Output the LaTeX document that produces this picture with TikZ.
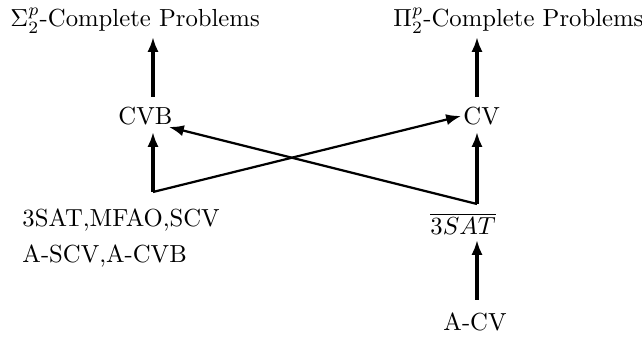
\documentclass[tikz,border=0pt]{standalone}
\usetikzlibrary{arrows.meta}
\begin{document}
\begin{tikzpicture}[x=0.405pt,y=-0.405pt,
  lbl/.style={anchor=base west,inner sep=0pt},
  vup/.style={line width=1.3pt,-{Latex[length=6pt,width=4.5pt]}},
  cross/.style={line width=0.9pt,-{Latex[length=6pt,width=4.5pt]}}]
\useasboundingbox (0,0) rectangle (642,337);
\node[lbl] (sigma) at (10,27) {$\Sigma_2^p$-Complete Problems};
\node[lbl] (pi) at (393,27) {$\Pi_2^p$-Complete Problems};
\node[lbl] (cvb) at (118,125) {CVB};
\node[lbl] (cv) at (463,125) {CV};
\node[lbl] (nsat) at (430,235) {$\overline{3SAT}$};
\node[lbl] (acv) at (443,331) {A-CV};
\node[lbl] (l1) at (22,227) {3SAT,MFAO,SCV};
\node[lbl] (l2) at (22,263) {A-SCV,A-CVB};
\coordinate (sigtip) at (153,37);
\coordinate (pitip) at (477,37);
\coordinate (cvbtop) at (153,97);
\coordinate (cvtop) at (477,97);
\coordinate (cvbbot) at (153,132);
\coordinate (cvbot) at (477,132);
\coordinate (c1) at (153,192);
\coordinate (c2) at (477,204);
\coordinate (cvbin) at (169,127);
\coordinate (cvin) at (461,116);
\coordinate (nsattop) at (477,240);
\coordinate (acvtop) at (477,300);
\draw[vup] (cvbtop) -- (sigtip);
\draw[vup] (cvtop) -- (pitip);
\draw[cross] (cvbbot |- c1) -- (cvin);
\draw[vup] (c1) -- (cvbbot);
\draw[cross] (c2) -- (cvbin);
\draw[vup] (c2) -- (cvbot);
\draw[vup] (acvtop) -- (nsattop);
\end{tikzpicture}
\end{document}
